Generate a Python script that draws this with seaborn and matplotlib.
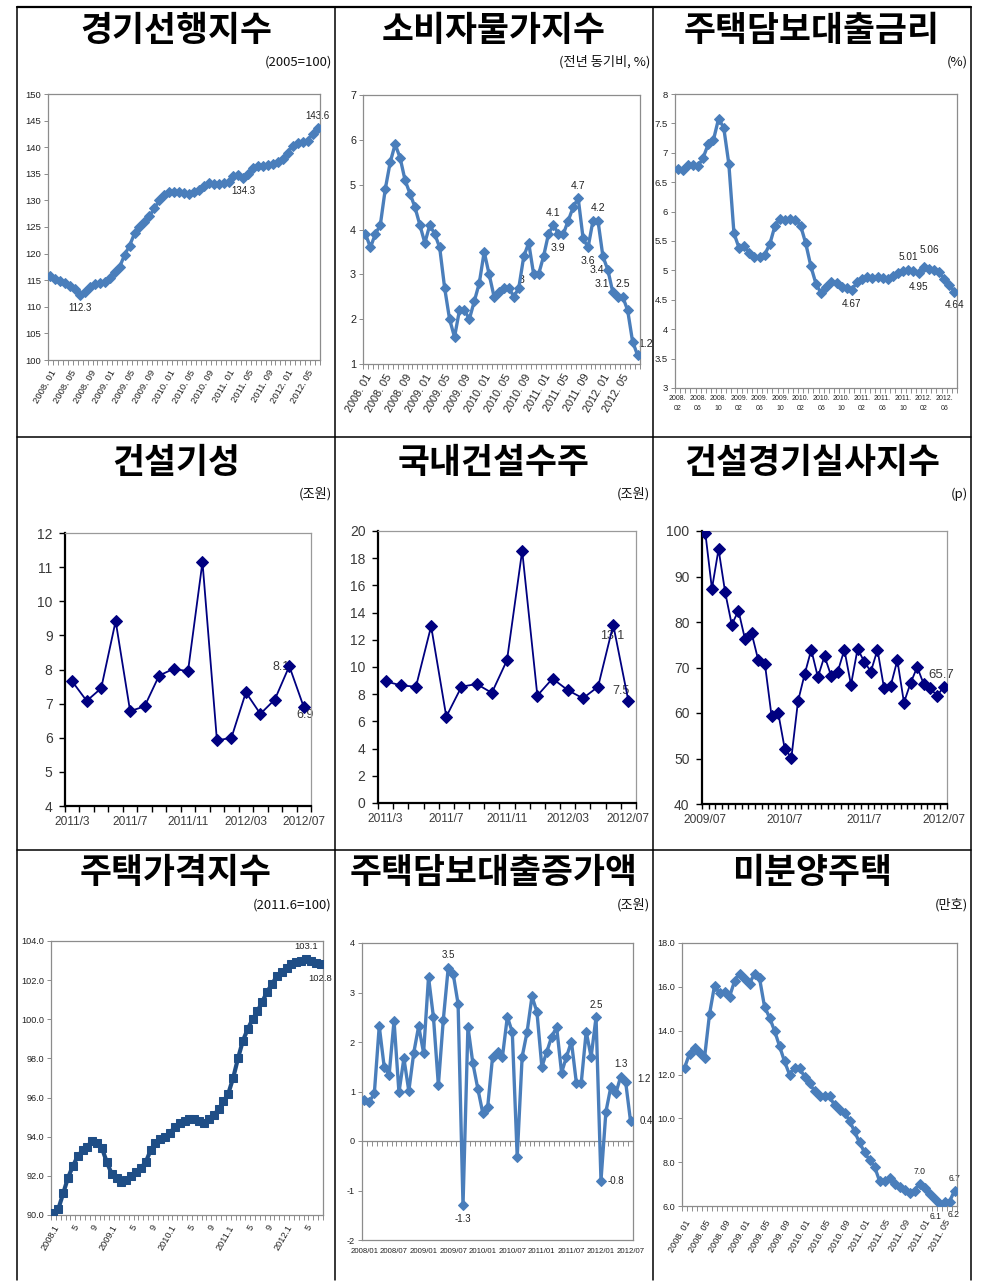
import numpy as np
import pandas as pd
import matplotlib
matplotlib.use("Agg")
import matplotlib.pyplot as plt
from matplotlib.lines import Line2D
import seaborn as sns

# ---------------------------------------------------------------- data
# 경기선행지수 (2008.01 - 2012.07)
leading_index = [115.8, 115.3, 114.8, 114.5, 114.0, 113.3, 112.3, 112.8, 113.8, 114.3, 114.5, 114.6,
                 115.5, 116.5, 117.5, 119.8, 121.5, 123.8, 125.0, 126.0, 127.0, 128.5, 130.0, 131.0,
                 131.5, 131.5, 131.5, 131.3, 131.2, 131.5, 132.0, 132.8, 133.2, 133.0, 133.0, 133.2,
                 133.5, 134.5, 134.8, 134.3, 135.0, 136.0, 136.5, 136.5, 136.7, 136.8, 137.2, 137.8,
                 139.0, 140.3, 140.7, 141.0, 141.2, 142.5, 143.6]
leading_ticks = ["2008. 01", "2008. 05", "2008. 09", "2009. 01", "2009. 05", "2009. 09", "2010. 01",
                 "2010. 05", "2010. 09", "2011. 01", "2011. 05", "2011. 09", "2012. 01", "2012. 05"]
leading_labels = {6: ("112.3", "below"), 39: ("134.3", "below"), 54: ("143.6", "above")}

# 소비자물가지수 (2008.01 - 2012.08)
cpi = [3.9, 3.6, 3.9, 4.1, 4.9, 5.5, 5.9, 5.6, 5.1, 4.8, 4.5, 4.1,
       3.7, 4.1, 3.9, 3.6, 2.7, 2.0, 1.6, 2.2, 2.2, 2.0, 2.4, 2.8,
       3.5, 3.0, 2.5, 2.6, 2.7, 2.7, 2.5, 2.7, 3.4, 3.7, 3.0, 3.0,
       3.4, 3.9, 4.1, 3.9, 3.9, 4.2, 4.5, 4.7, 3.8, 3.6, 4.2, 4.2,
       3.4, 3.1, 2.6, 2.5, 2.5, 2.2, 1.5, 1.2]
cpi_ticks = leading_ticks
cpi_labels = {34: ("3", "left"), 38: ("4.1", "above"), 39: ("3.9", "below"), 43: ("4.7", "above"),
              45: ("3.6", "below"), 47: ("4.2", "above"), 48: ("3.4", "belowleft"), 49: ("3.1", "belowleft"),
              52: ("2.5", "above"), 55: ("1.2", "aboveright")}

# 주택담보대출금리 (2008.02 - 2012.08)
mortgage_rate = [6.72, 6.70, 6.80, 6.80, 6.77, 6.92, 7.15, 7.22, 7.58, 7.43,
                 6.81, 5.63, 5.38, 5.42, 5.30, 5.23, 5.22, 5.27, 5.45, 5.76,
                 5.88, 5.85, 5.88, 5.86, 5.76, 5.46, 5.07, 4.77, 4.61, 4.72,
                 4.81, 4.78, 4.71, 4.70, 4.67, 4.80, 4.85, 4.88, 4.87, 4.88,
                 4.87, 4.86, 4.90, 4.96, 4.99, 5.01, 4.99, 4.95, 5.06, 5.03,
                 5.00, 4.97, 4.86, 4.76, 4.64]
rate_ticks = ["2008.\n02", "2008.\n06", "2008.\n10", "2009.\n02", "2009.\n06", "2009.\n10", "2010.\n02",
              "2010.\n06", "2010.\n10", "2011.\n02", "2011.\n06", "2011.\n10", "2012.\n02", "2012.\n06"]
rate_labels = {34: ("4.67", "below"), 45: ("5.01", "above"), 47: ("4.95", "below"),
               48: ("5.06", "above2"), 54: ("4.64", "below")}

# 건설기성 / 국내건설수주 (2011/3 - 2012/07, 조원)
construction_output = [7.65, 7.08, 7.45, 9.42, 6.78, 6.92, 7.82, 8.02, 7.95, 11.15, 5.92, 6.0,
                       7.33, 6.7, 7.12, 8.1, 6.9]
construction_orders = [8.95, 8.65, 8.55, 13.0, 6.35, 8.55, 8.75, 8.1, 10.5, 18.55, 7.9, 9.15,
                       8.3, 7.7, 8.55, 13.1, 7.5]
monthly_ticks = ["2011/3", "2011/7", "2011/11", "2012/03", "2012/07"]

# 건설경기실사지수 (2009/07 - 2012/07)
bsi = [99.6, 87.3, 96.0, 86.5, 79.4, 82.5, 76.2, 77.5, 71.6, 70.8, 59.4, 60.1, 52.1,
       50.2, 62.6, 68.5, 73.9, 67.9, 72.5, 68.2, 69.1, 73.9, 66.2, 74.1, 71.3, 69.1,
       73.9, 65.4, 66.0, 71.6, 62.3, 66.6, 70.1, 66.3, 65.4, 63.8, 65.7]
bsi_ticks = ["2009/07", "2010/7", "2011/7", "2012/07"]

# 주택가격지수 (2008.1 - 2012.8, 2011.6=100)
house_price = [90.1, 90.3, 91.1, 91.9, 92.5, 93.0, 93.3, 93.5, 93.8, 93.7, 93.4, 92.7,
               92.1, 91.9, 91.7, 91.8, 92.0, 92.2, 92.4, 92.7, 93.3, 93.7, 93.9, 94.0,
               94.2, 94.5, 94.7, 94.8, 94.9, 94.9, 94.8, 94.7, 94.9, 95.1, 95.4, 95.8,
               96.2, 97.0, 98.0, 98.9, 99.5, 100.0, 100.4, 100.9, 101.4, 101.8, 102.2, 102.4,
               102.6, 102.8, 102.95, 103.0, 103.1, 103.0, 102.9, 102.8]
house_ticks = ["2008.1", "5", "9", "2009.1", "5", "9", "2010.1", "5", "9",
               "2011.1", "5", "9", "2012.1", "5"]
house_labels = {52: ("103.1", "above"), 55: ("102.8", "below")}

# 주택담보대출증가액 (2008/01 - 2012/07, 조원)
mortgage_growth = [0.82, 0.79, 0.96, 2.32, 1.5, 1.33, 2.43, 0.98, 1.67, 1.01, 1.78, 2.32,
                   1.78, 3.31, 2.5, 1.13, 2.45, 3.5, 3.38, 2.77, -1.3, 2.31, 1.57, 1.06,
                   0.57, 0.68, 1.70, 1.80, 1.70, 2.51, 2.2, -0.32, 1.70, 2.2, 2.92, 2.61,
                   1.50, 1.80, 2.11, 2.30, 1.38, 1.70, 2.01, 1.18, 1.18, 2.21, 1.70, 2.5,
                   -0.8, 0.59, 1.09, 0.96, 1.3, 1.2, 0.4]
growth_ticks = ["2008/01", "2008/07", "2009/01", "2009/07", "2010/01",
                "2010/07", "2011/01", "2011/07", "2012/01", "2012/07"]
growth_labels = {17: ("3.5", "above"), 20: ("-1.3", "below"), 47: ("2.5", "above"),
                 48: ("-0.8", "right"), 52: ("1.3", "above"), 53: ("1.2", "right2"), 54: ("0.4", "right")}

# 미분양주택 (만호)
unsold = [12.3, 12.95, 13.2, 13.0, 12.75, 14.75, 16.05, 15.7, 15.75, 15.55, 16.25, 16.6,
          16.35, 16.15, 16.6, 16.4, 15.1, 14.6, 14.0, 13.3, 12.6, 12.0, 12.3, 12.3,
          11.9, 11.6, 11.25, 11.0, 11.0, 11.0, 10.6, 10.4, 10.25, 9.9, 9.4, 8.9,
          8.45, 8.1, 7.8, 7.15, 7.15, 7.3, 7.0, 6.85, 6.75, 6.6, 6.7, 7.0,
          6.8, 6.55, 6.3, 6.1, 6.2, 6.2, 6.7]
unsold_ticks = ["2008. 01", "2008. 05", "2008. 09", "2009. 01", "2009. 05", "2009. 09", "2010. 01",
                "2010. 05", "2010. 09", "2011. 01", "2011. 05", "2011. 09", "2011. 01", "2011. 05"]
unsold_labels = {47: ("7.0", "above"), 51: ("6.1", "bottomleft"), 53: ("6.2", "bottomright"),
                 54: ("6.7", "above")}

titles = ["경기선행지수", "소비자물가지수", "주택담보대출금리",
          "건설기성", "국내건설수주", "건설경기실사지수",
          "주택가격지수", "주택담보대출증가액", "미분양주택"]
units = ["(2005=100)", "(전년 동기비, %)", "(%)",
         "(조원)", "(조원)", "(p)",
         "(2011.6=100)", "(조원)", "(만호)"]

# ---------------------------------------------------------------- style
sns.set_style("white")
KR = ["Noto Sans CJK KR", "DejaVu Sans"]
SANS = ["Liberation Sans", "DejaVu Sans"]
plt.rcParams["font.family"] = SANS

W, H = 983, 1282
fig = plt.figure(figsize=(W / 100, H / 100), dpi=100)
fig.patch.set_facecolor("white")

EXCEL_BLUE = "#4A7EBB"
EXCEL_DARK = "#1F4E86"
NAVY = "#000080"
FRAME = "#8C8C8C"


def px_axes(left, top, right, bottom):
    return fig.add_axes([left / W, 1 - bottom / H, (right - left) / W, (bottom - top) / H])


def fig_line(x0, y0, x1, y1, lw=1.2, color="black"):
    fig.add_artist(Line2D([x0 / W, x1 / W], [1 - y0 / H, 1 - y1 / H], lw=lw, color=color,
                          transform=fig.transFigure))


# table grid
cols = [17, 335, 653, 971]
rows = [7, 437, 850, 1280]
for x in cols:
    fig_line(x, rows[0], x, rows[-1], lw=1.1)
for y in rows[:-1]:
    fig_line(cols[0], y, cols[-1], y, lw=1.6 if y == rows[0] else 1.1)

title_y = [30, 463, 873]
unit_y = [62, 494, 905]
for i, (t, u) in enumerate(zip(titles, units)):
    r, c = divmod(i, 3)
    cx = (cols[c] + cols[c + 1]) / 2
    fig.text(cx / W, 1 - title_y[r] / H, t, ha="center", va="center", fontsize=25,
             fontweight="bold", family=KR, color="black")
    fig.text((cols[c + 1] - 3) / W, 1 - unit_y[r] / H, u, ha="right", va="center",
             fontsize=9.5, family=KR, color="#111111")


OFFSETS = {"above": (0, 9), "above2": (4, 12), "below": (0, -10),
           "bottomleft": (-3, -9), "bottomright": (3, -9),
           "left": (-9, -4), "right": (11, 0), "right2": (13, 2), "belowleft": (-4, -10),
           "aboveright": (6, 8)}


def annotate(ax, values, labels, size=7.2, color="#222222"):
    for i, (txt, where) in labels.items():
        dx, dy = OFFSETS[where]
        ax.annotate(txt, (i, values[i]), xytext=(dx, dy), textcoords="offset points",
                    ha="center", va="center", fontsize=size, color=color, zorder=1,
                    annotation_clip=False)


def excel_panel(box, values, ylim, ystep, yfmt, ticks, every, color, marker, ms, lw,
                rotate=True, tick_size=7.2, xtick_size=None):
    ax = px_axes(*box)
    n = len(values)
    df = pd.DataFrame({"x": np.arange(n), "y": values})
    sns.lineplot(data=df, x="x", y="y", ax=ax, color=color, linewidth=lw, marker=marker,
                 markersize=ms, markeredgecolor=color, markerfacecolor=color, zorder=3)
    ax.set_xlim(-0.5, n - 0.5)
    ax.set_ylim(*ylim)
    yt = np.arange(ylim[0], ylim[1] + ystep / 2, ystep)
    ax.set_yticks(yt, [yfmt.format(v) for v in yt])
    ax.set_xlabel("")
    ax.set_ylabel("")
    for s in ax.spines.values():
        s.set_color(FRAME)
        s.set_linewidth(0.9)
    ax.tick_params(axis="y", length=3, width=0.7, color=FRAME, labelsize=tick_size,
                   labelcolor="#222222", pad=2, left=True)
    pos = np.arange(0, n, every)[:len(ticks)]
    if rotate:
        ax.set_xticks(pos, ticks, rotation=60, ha="right", rotation_mode="anchor")
    else:
        ax.set_xticks(pos, ticks)
    ax.tick_params(axis="x", length=0, labelsize=xtick_size or tick_size,
                   labelcolor="#222222", pad=6)
    ax.set_xticks(np.arange(n + 1) - 0.5, minor=True)
    ax.tick_params(axis="x", which="minor", length=3.5, width=0.7, color=FRAME, bottom=True)
    ax.grid(False)
    return ax


# ---- row 1
ax1 = excel_panel((48, 94, 320, 360), leading_index, (100, 150), 5, "{:.0f}", leading_ticks, 4,
                  EXCEL_BLUE, "D", 5.5, 2.4, tick_size=6.8)
annotate(ax1, leading_index, leading_labels, size=7)

ax2 = excel_panel((363, 95, 640, 364), cpi, (1, 7), 1, "{:.0f}", cpi_ticks, 4,
                  EXCEL_BLUE, "D", 5.5, 2.4, tick_size=7.8)
annotate(ax2, cpi, cpi_labels, size=7.6)

ax3 = excel_panel((675, 94, 957, 388), mortgage_rate, (3, 8), 0.5, "{:g}", rate_ticks, 4,
                  EXCEL_BLUE, "D", 5.5, 2.4, rotate=False, tick_size=6.8, xtick_size=5.0)
ax3.tick_params(axis="x", pad=5)
for lab in ax3.get_xticklabels():
    lab.set_linespacing(1.6)
annotate(ax3, mortgage_rate, rate_labels)


# ---- row 2 (navy series)
def navy_panel(box, values, ylim, ystep, ticks, every, pad_pts=4):
    ax = px_axes(*box)
    n = len(values)
    df = pd.DataFrame({"x": np.arange(n), "y": values})
    sns.lineplot(data=df, x="x", y="y", ax=ax, color=NAVY, linewidth=1.3, marker="D",
                 markersize=6, markeredgecolor=NAVY, markerfacecolor=NAVY, zorder=3)
    ax.set_xlim(-0.5, n - 0.5)
    ax.set_ylim(*ylim)
    ax.set_yticks(np.arange(ylim[0], ylim[1] + ystep / 2, ystep))
    ax.set_xlabel("")
    ax.set_ylabel("")
    ax.spines["left"].set_color("black")
    ax.spines["bottom"].set_color("black")
    ax.spines["left"].set_linewidth(1.6)
    ax.spines["bottom"].set_linewidth(1.6)
    ax.spines["top"].set_color("#9A9A9A")
    ax.spines["right"].set_color("#9A9A9A")
    ax.spines["top"].set_linewidth(0.9)
    ax.spines["right"].set_linewidth(0.9)
    ax.tick_params(axis="y", length=4, width=1.0, color="black", labelsize=10,
                   labelcolor="#3A3A3A", left=True, pad=5)
    ax.set_xticks(np.arange(0, n, every), ticks)
    ax.tick_params(axis="x", length=0, labelsize=8.6, labelcolor="#3A3A3A", pad=pad_pts + 3)
    ax.set_xticks(np.arange(n + 1) - 0.5, minor=True)
    ax.tick_params(axis="x", which="minor", length=4.5, width=1.0, color="black", bottom=True)
    ax.grid(False)
    return ax


def navy_label(ax, values, i, dx, dy, size=9):
    ax.annotate(f"{values[i]:g}", (i, values[i]), xytext=(dx, dy), textcoords="offset points",
                ha="center", va="center", fontsize=size, color="#3A3A3A", zorder=1,
                annotation_clip=False)


ax4 = navy_panel((65, 533, 311, 806), construction_output, (4, 12), 1, monthly_ticks, 4)
navy_label(ax4, construction_output, 15, -6, -1)
navy_label(ax4, construction_output, 16, 1, -6)

ax5 = navy_panel((378, 531, 636, 803), construction_orders, (0, 20), 2, monthly_ticks, 4)
navy_label(ax5, construction_orders, 15, -1, -8)
navy_label(ax5, construction_orders, 16, -5, 7)

ax6 = navy_panel((702, 531, 947, 804), bsi, (40, 100), 10, bsi_ticks, 12)
ax6.tick_params(axis="x", which="minor", length=3.5)
navy_label(ax6, bsi, len(bsi) - 1, -2, 9, size=9.5)

# ---- row 3
ax7 = excel_panel((51, 941, 323, 1215), house_price, (90, 104), 2, "{:.1f}", house_ticks, 4,
                  EXCEL_DARK, "s", 5.5, 3.0, tick_size=6.6)
annotate(ax7, house_price, house_labels, size=6.8)

ax8 = excel_panel((362, 943, 633, 1240), mortgage_growth, (-2, 4), 1, "{:.0f}", growth_ticks, 6,
                  EXCEL_BLUE, "D", 5.5, 2.4, rotate=False, tick_size=6.6, xtick_size=5.6)
ax8.set_xticks([], minor=True)
ax8.tick_params(axis="x", pad=6)
y0, y1 = ax8.get_ylim()
zero_axis = ax8.secondary_xaxis((0 - y0) / (y1 - y0))
zero_axis.set_xticks(np.arange(len(mortgage_growth) + 1) - 0.5, [""] * (len(mortgage_growth) + 1))
zero_axis.tick_params(axis="x", length=3.5, width=0.7, color=FRAME, direction="out")
zero_axis.spines["bottom"].set_color(FRAME)
zero_axis.spines["bottom"].set_linewidth(0.9)
annotate(ax8, mortgage_growth, growth_labels, size=7)

ax9 = excel_panel((682, 943, 957, 1206), unsold, (6, 18), 2, "{:.1f}", unsold_ticks, 4,
                  EXCEL_BLUE, "D", 5.5, 2.4, tick_size=6.6)
ax9.tick_params(axis="x", pad=9)
annotate(ax9, unsold, unsold_labels, size=6.2)

fig.savefig("out.png", dpi=100, facecolor="white")
